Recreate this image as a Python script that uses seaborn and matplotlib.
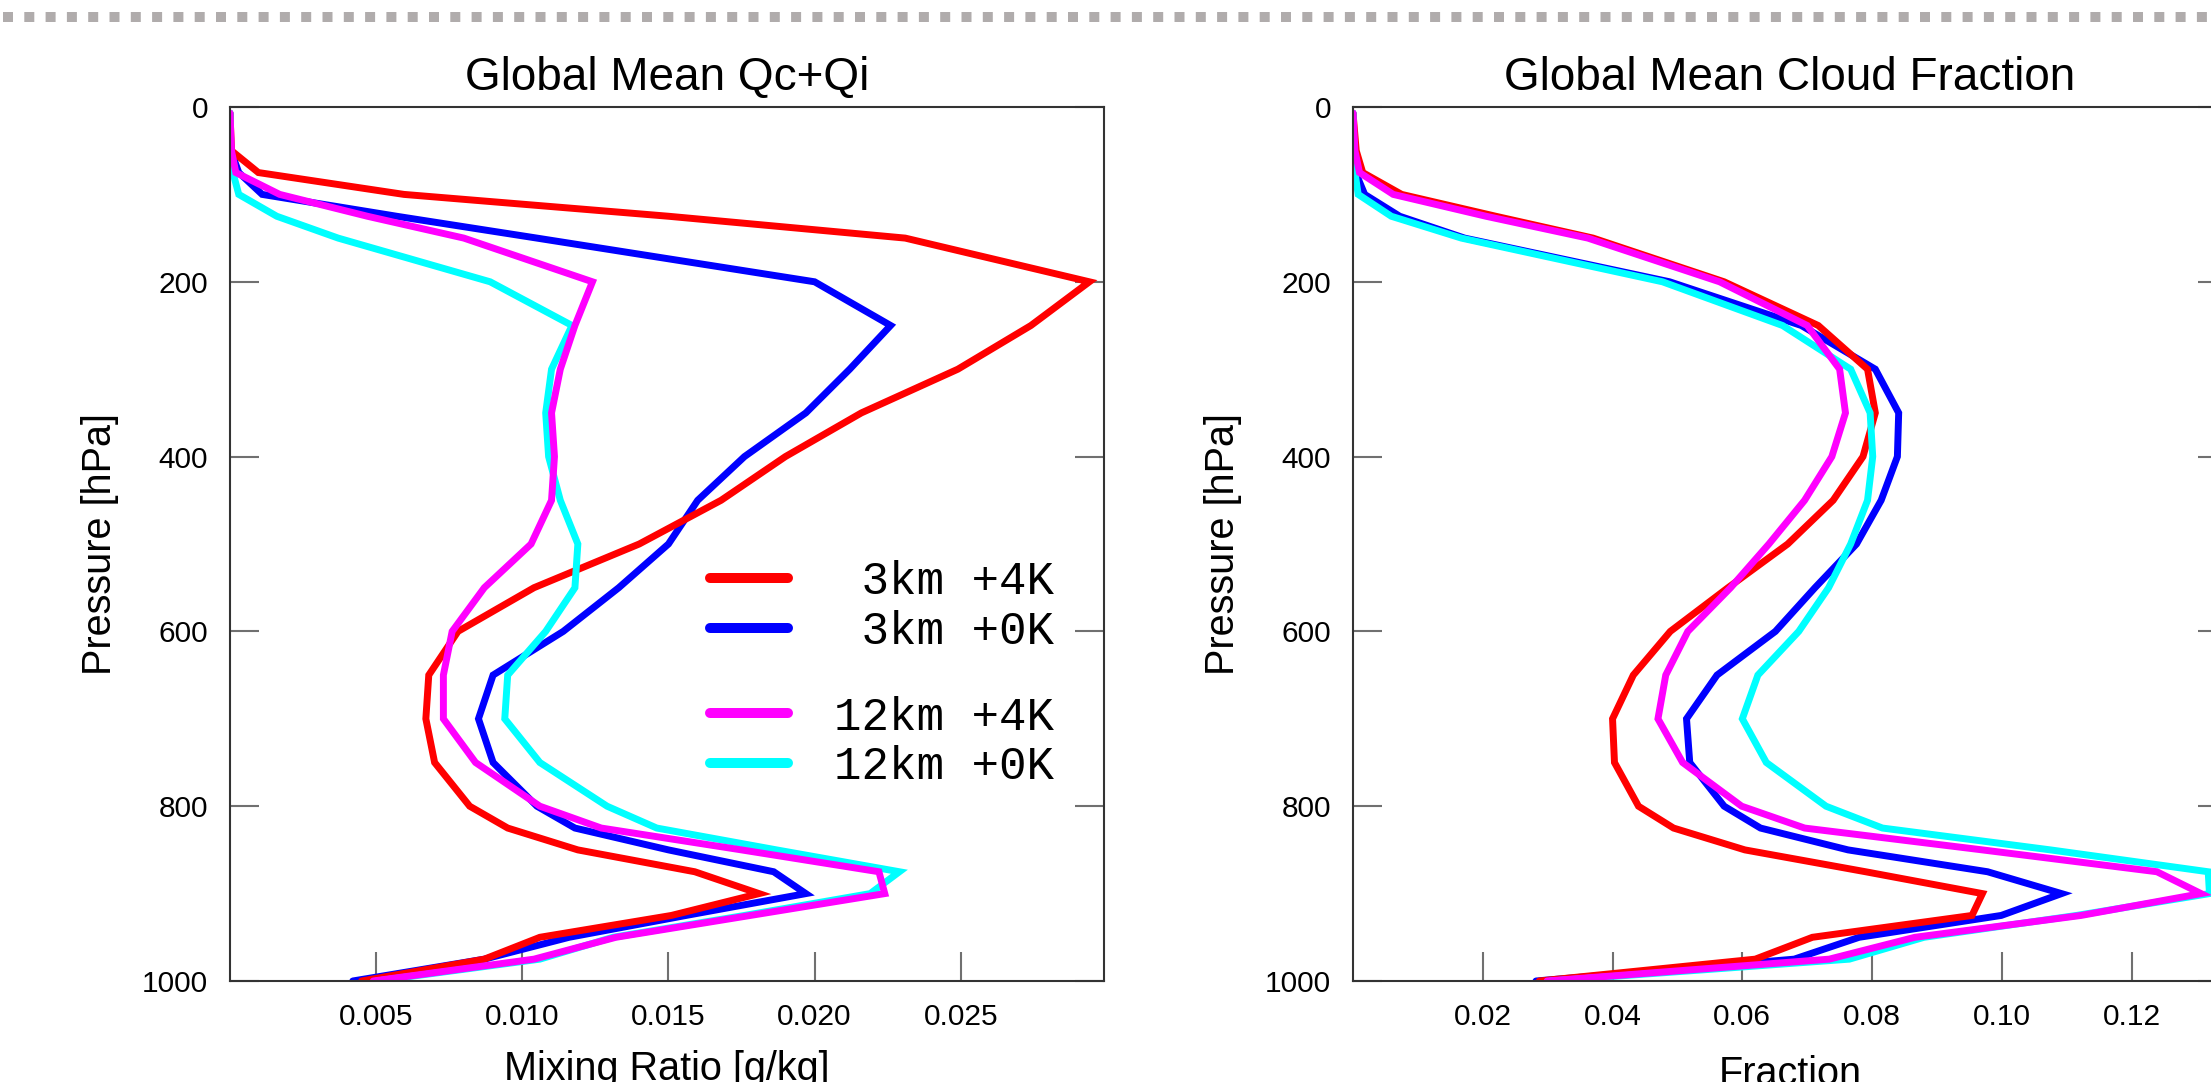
import numpy as np
import pandas as pd
import seaborn as sns
import matplotlib.pyplot as plt
from matplotlib.lines import Line2D
from matplotlib.font_manager import FontProperties

# pressure levels [hPa]
levels = [7, 50, 75, 100, 125, 150, 200, 250, 300, 350, 400, 450, 500, 550,
          600, 650, 700, 750, 800, 825, 850, 875, 900, 925, 950, 975, 1000]

cases = [" 3km +4K", " 3km +0K", "12km +4K", "12km +0K"]
case_colors = ["red", "blue", "magenta", "cyan"]
draw_order = [" 3km +0K", " 3km +4K", "12km +0K", "12km +4K"]

# Qc+Qi mixing ratio [g/kg]
qcqi_3km_4k = [0, 0.00005, 0.00097, 0.00595, 0.0150, 0.0231, 0.0294, 0.0274, 0.0249,
               0.0216, 0.0190, 0.0168, 0.0140, 0.0104, 0.0078, 0.0068, 0.0067, 0.0070,
               0.0082, 0.0095, 0.0119, 0.0159, 0.0181, 0.0151, 0.0106, 0.0087, 0.0045]
qcqi_3km_0k = [0, 0.00003, 0.0003, 0.0011, 0.0057, 0.0105, 0.0200, 0.0226, 0.0212,
               0.0197, 0.0176, 0.0160, 0.0150, 0.0133, 0.0114, 0.0090, 0.0085, 0.0090,
               0.0105, 0.0118, 0.0150, 0.0186, 0.0197, 0.0156, 0.0116, 0.0087, 0.0042]
qcqi_12km_4k = [0, 0.00005, 0.0002, 0.0017, 0.0047, 0.0080, 0.0124, 0.0118, 0.0113,
                0.0110, 0.0111, 0.0110, 0.0103, 0.0087, 0.0076, 0.0073, 0.0073, 0.0084,
                0.0106, 0.0127, 0.0175, 0.0222, 0.0224, 0.0178, 0.0132, 0.0104, 0.0049]
qcqi_12km_0k = [0, 0.00002, 0.0001, 0.0003, 0.0016, 0.0037, 0.0089, 0.0117, 0.0110,
                0.0108, 0.0109, 0.0113, 0.0119, 0.0118, 0.0108, 0.0095, 0.0094, 0.0106,
                0.0129, 0.0146, 0.0187, 0.0229, 0.0219, 0.0176, 0.0131, 0.0106, 0.0050]

# cloud fraction
cf_3km_4k = [0, 0.0005, 0.0015, 0.0075, 0.0220, 0.0370, 0.0572, 0.0717, 0.0793,
             0.0805, 0.0786, 0.0740, 0.0670, 0.0578, 0.0489, 0.0432, 0.0400, 0.0403,
             0.0440, 0.0494, 0.0604, 0.0790, 0.0970, 0.0954, 0.0708, 0.0620, 0.0287]
cf_3km_0k = [0, 0.0001, 0.0004, 0.0018, 0.0072, 0.0172, 0.0488, 0.0691, 0.0805,
             0.0841, 0.0839, 0.0814, 0.0776, 0.0712, 0.0651, 0.0561, 0.0514, 0.0519,
             0.0572, 0.0628, 0.0763, 0.0978, 0.1092, 0.0999, 0.0780, 0.0680, 0.0282]
cf_12km_4k = [0, 0.0003, 0.0010, 0.0062, 0.0205, 0.0362, 0.0565, 0.0700, 0.0750,
              0.0759, 0.0738, 0.0696, 0.0641, 0.0582, 0.0516, 0.0482, 0.0470, 0.0508,
              0.0599, 0.0696, 0.0970, 0.1239, 0.1307, 0.1122, 0.0866, 0.0734, 0.0299]
cf_12km_0k = [0, 0.0001, 0.0003, 0.0008, 0.0059, 0.0167, 0.0477, 0.0662, 0.0767,
              0.0797, 0.0801, 0.0793, 0.0767, 0.0733, 0.0687, 0.0624, 0.0600, 0.0637,
              0.0729, 0.0816, 0.1075, 0.1318, 0.1320, 0.1115, 0.0880, 0.0765, 0.0304]

qcqi_ticks = [0.005, 0.010, 0.015, 0.020, 0.025]
qcqi_ticklabels = ["0.005", "0.010", "0.015", "0.020", "0.025"]
cf_ticks = [0.02, 0.04, 0.06, 0.08, 0.10, 0.12]
cf_ticklabels = ["0.02", "0.04", "0.06", "0.08", "0.10", "0.12"]
p_ticks = [0, 200, 400, 600, 800, 1000]


def to_long(series):
    frames = []
    for case, vals in zip(cases, series):
        frames.append(pd.DataFrame({"pressure": levels, "value": vals, "case": case}))
    return pd.concat(frames, ignore_index=True)


qcqi_df = to_long([qcqi_3km_4k, qcqi_3km_0k, qcqi_12km_4k, qcqi_12km_0k])
cf_df = to_long([cf_3km_4k, cf_3km_0k, cf_12km_4k, cf_12km_0k])

sns.set_theme(style="white")
plt.rcParams['font.family'] = ['Liberation Sans', 'DejaVu Sans']
plt.rcParams['text.color'] = 'black'
plt.rcParams['axes.labelcolor'] = 'black'
palette = dict(zip(cases, case_colors))

fig = plt.figure(figsize=(22.11, 10.82), dpi=100)
ax1 = fig.add_axes([230 / 2211, 101 / 1082, 874 / 2211, 874 / 1082])
ax2 = fig.add_axes([1353 / 2211, 101 / 1082, 874 / 2211, 874 / 1082])


def draw_panel(ax, df, xmax, ticks, ticklabels, title, xlabel, xlabel_y):
    sns.lineplot(data=df, x="value", y="pressure", hue="case", hue_order=draw_order,
                 palette=palette, sort=False, estimator=None, orient="y",
                 linewidth=5, legend=False, ax=ax)
    for line in ax.lines:
        line.set_solid_capstyle("round")
        line.set_solid_joinstyle("miter")
    ax.set_xlim(0, xmax)
    ax.set_ylim(1000, 0)
    ax.set_xticks(ticks)
    ax.set_xticklabels(ticklabels)
    ax.set_yticks(p_ticks)
    ax.tick_params(axis="both", direction="in", length=21, width=1.5, color="#707070",
                   labelsize=21.5, pad=15.8, labelcolor="black")
    ax.tick_params(axis="y", left=True, right=True)
    ax.tick_params(axis="x", bottom=True, top=False)
    for s in ax.spines.values():
        s.set_linewidth(1.5)
        s.set_color("#333333")
    ax.set_title(title, fontsize=33, pad=12, color="black")
    ax.set_xlabel(xlabel, fontsize=28.5)
    ax.xaxis.set_label_coords(0.5, xlabel_y)
    ax.set_ylabel("Pressure [hPa]", fontsize=28.5)
    ax.yaxis.set_label_coords(-0.127, 0.5)


draw_panel(ax1, qcqi_df, 0.0299, qcqi_ticks, qcqi_ticklabels,
           "Global Mean Qc+Qi", "Mixing Ratio [g/kg]", -0.079)
draw_panel(ax2, cf_df, 0.1347, cf_ticks, cf_ticklabels,
           "Global Mean Cloud Fraction", "Fraction", -0.085)

# legend in left panel, two groups
line_by_case = dict(zip(draw_order, ax1.lines))
mono = FontProperties(family="Liberation Mono", size=33)
legs = []
for group, anchor_y in [(cases[:2], 0.4276), (cases[2:], 0.2729)]:
    leg = ax1.legend([line_by_case[c] for c in group], group, loc="center right",
                     bbox_to_anchor=(0.9424, anchor_y), prop=mono, frameon=False,
                     handlelength=1.7, handletextpad=1.0, labelspacing=0.13,
                     borderpad=0, borderaxespad=0)
    for h in leg.legend_handles:
        h.set_linewidth(7.2)
        h.set_solid_capstyle("round")
    legs.append(leg)
ax1.add_artist(legs[0])

# dashed separator at the top
fig.add_artist(Line2D([2.6 / 2211, 1], [1 - 16.7 / 1082] * 2, transform=fig.transFigure,
                      color="#b0acac", lw=7.2, dashes=(1.0, 1.13), dash_capstyle="butt"))

fig.savefig("out.png", dpi=100)
